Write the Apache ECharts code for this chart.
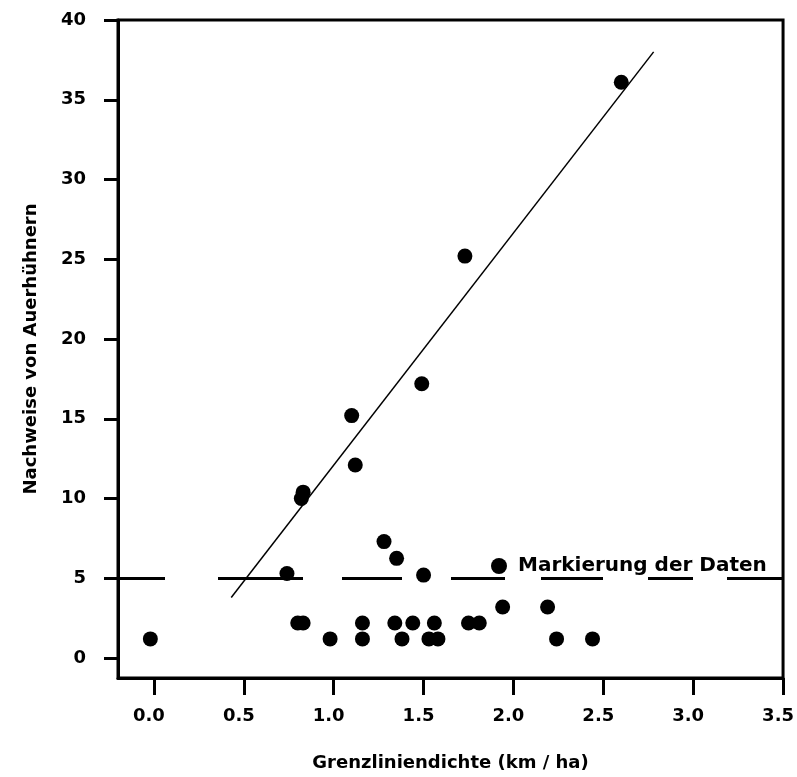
<!DOCTYPE html>
<html>
<head>
<meta charset="utf-8">
<script src="https://cdn.jsdelivr.net/npm/echarts@6/dist/echarts.min.js"></script>
<style>
  html, body { margin: 0; padding: 0; background: #fff; }
  #chart { width: 797px; height: 777px; }
</style>
</head>
<body>
<div id="chart"></div>
<script>
// Messpunkte (x = Grenzliniendichte, y = Nachweise)
const pointX = [0.83, 0.82, 1.10, 1.12, 1.49, 1.73, 2.60,
                0.74, 1.28, 1.35, 1.50,
                -0.02, 0.80, 0.83, 0.98, 1.16, 1.16, 1.34, 1.38, 1.44, 1.56, 1.53, 1.58,
                1.75, 1.81, 1.94, 2.19, 2.24, 2.44];
const pointY = [10.4, 10.0, 15.2, 12.1, 17.2, 25.2, 36.1,
                5.3, 7.3, 6.25, 5.2,
                1.2, 2.2, 2.2, 1.2, 2.2, 1.2, 2.2, 1.2, 2.2, 2.2, 1.2, 1.2,
                2.2, 2.2, 3.2, 3.2, 1.2, 1.2];
// Regressionsgerade
const fitX = [0.43, 2.78];
const fitY = [3.8, 38.0];
// Trennlinie
const cutY = 5;
// Achsenbeschriftung
const xTicks = [0, 0.5, 1.0, 1.5, 2.0, 2.5, 3.0, 3.5];
const yTicks = [0, 5, 10, 15, 20, 25, 30, 35, 40];

const font = 'DejaVu Sans';
const myChart = echarts.init(document.querySelector('#chart'));

const option = {
    animation: false,
    backgroundColor: '#fff',
    grid: {
        left: 118,
        top: 20,
        right: 12,
        bottom: 95,
        show: true,
        borderColor: '#000',
        borderWidth: 3
    },
    legend: {
        left: 486,
        top: 551,
        itemWidth: 16,
        itemHeight: 16,
        data: [{ name: 'Markierung der Daten', icon: 'circle' }],
        textStyle: {
            fontFamily: font,
            fontWeight: 'bold',
            fontSize: 20,
            color: '#000',
            padding: [0, 0, 0, 6]
        }
    },
    xAxis: {
        type: 'value',
        min: -0.2,
        max: 3.5,
        name: 'Grenzliniendichte (km / ha)',
        nameLocation: 'middle',
        nameGap: 76,
        nameTextStyle: { fontFamily: font, fontWeight: 'bold', fontSize: 18, color: '#000' },
        axisLine: { onZero: false, lineStyle: { color: '#000', width: 3 } },
        axisTick: { show: true, length: 17, lineStyle: { color: '#000', width: 3 }, customValues: xTicks },
        axisLabel: {
            customValues: xTicks,
            margin: 29,
            padding: [0, 10, 0, 0],
            fontFamily: font,
            fontWeight: 'bold',
            fontSize: 18,
            color: '#000',
            formatter: v => v.toFixed(1)
        },
        splitLine: { show: false }
    },
    yAxis: {
        type: 'value',
        min: -1.25,
        max: 40,
        name: 'Nachweise von Auerhühnern',
        nameLocation: 'middle',
        nameGap: 78,
        nameTextStyle: { fontFamily: font, fontWeight: 'bold', fontSize: 18, color: '#000' },
        axisLine: { onZero: false, lineStyle: { color: '#000', width: 3 } },
        axisTick: { show: true, length: 14, lineStyle: { color: '#000', width: 3 }, customValues: yTicks },
        axisLabel: {
            customValues: yTicks,
            margin: 32,
            fontFamily: font,
            fontWeight: 'bold',
            fontSize: 18,
            color: '#000'
        },
        splitLine: { show: false }
    },
    series: [
        {
            name: 'Markierung der Daten',
            type: 'scatter',
            symbol: 'circle',
            symbolSize: 15,
            itemStyle: { color: '#000', opacity: 1 },
            data: pointX.map((x, i) => [x, pointY[i]]),
            markLine: {
                silent: true,
                symbol: 'none',
                label: { show: false },
                lineStyle: {
                    color: '#000',
                    width: 3,
                    opacity: 1,
                    type: [47, 53, 85, 39, 60, 49, 54, 36, 62, 45, 45, 34, 58, 40]
                },
                data: [{ yAxis: cutY }]
            }
        },
        {
            name: 'Regression',
            type: 'line',
            symbol: 'none',
            lineStyle: { color: '#000', width: 1.5 },
            data: fitX.map((x, i) => [x, fitY[i]])
        }
    ]
};
myChart.setOption(option);
</script>
</body>
</html>
